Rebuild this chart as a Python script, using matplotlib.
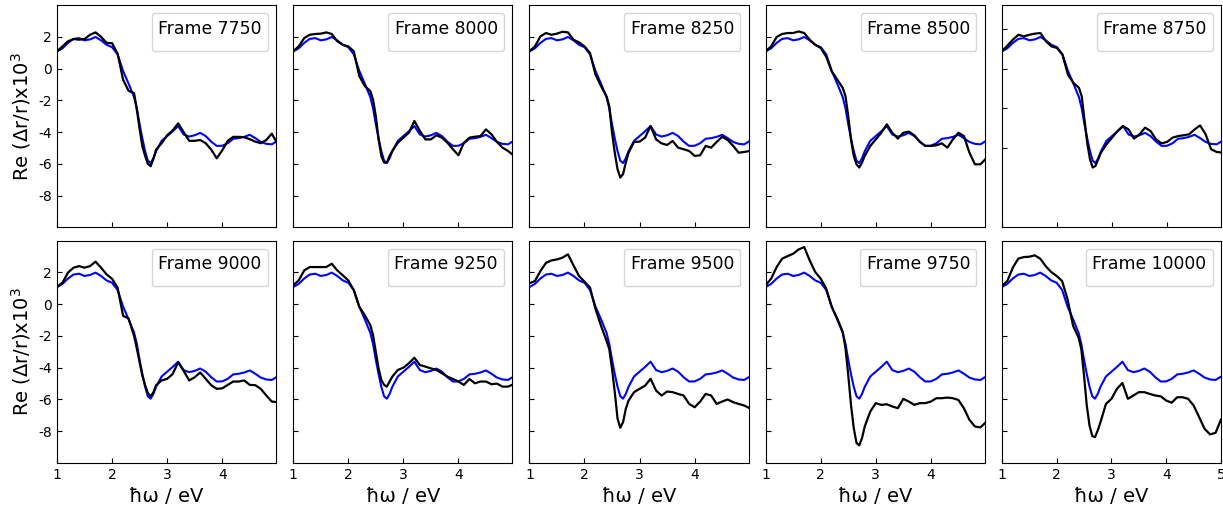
import matplotlib
matplotlib.use('Agg')
import matplotlib.pyplot as plt

plt.rcParams['axes.unicode_minus'] = False

# ---------------------------------------------------------
# DATA
# ---------------------------------------------------------
energy = [1.0, 1.1, 1.2, 1.3, 1.4, 1.5, 1.6, 1.7, 1.8, 1.9, 2.0, 2.1, 2.2, 2.3, 2.4,
          2.45, 2.5, 2.55, 2.6, 2.65, 2.7, 2.75, 2.8,
          2.9, 3.0, 3.1, 3.2, 3.3, 3.4, 3.5, 3.6, 3.7, 3.8, 3.9, 4.0, 4.1, 4.2,
          4.3, 4.4, 4.5, 4.6, 4.7, 4.8, 4.9, 5.0]

# blue reference curve (same in every panel)
reference = [1.08, 1.28, 1.62, 1.87, 1.92, 1.78, 1.84, 1.99, 1.78, 1.50, 1.35, 0.90, -0.15, -0.95, -1.80,
             -2.50, -3.50, -4.40, -5.20, -5.80, -5.95, -5.65, -5.20,
             -4.55, -4.25, -3.95, -3.62, -4.15, -4.28, -4.20, -4.05, -4.25, -4.60, -4.87, -4.86, -4.70, -4.42,
             -4.38, -4.30, -4.17, -4.38, -4.62, -4.74, -4.77, -4.56]

frames = ['7750', '8000', '8250', '8500', '8750', '9000', '9250', '9500', '9750', '10000']

frame_7750 = [1.09, 1.40, 1.72, 1.86, 1.82, 1.86, 2.13, 2.28, 2.00, 1.62, 1.60, 0.95, -0.70, -1.40, -1.55,
              -2.60, -3.80, -4.90, -5.50, -6.00, -6.15, -5.70, -5.10,
              -4.70, -4.20, -3.90, -3.45, -4.00, -4.55, -4.55, -4.50, -4.70, -5.10, -5.65, -5.15, -4.55, -4.30,
              -4.30, -4.32, -4.45, -4.60, -4.70, -4.50, -4.10, -4.70]
frame_8000 = [1.09, 1.40, 1.92, 2.13, 2.18, 2.20, 2.28, 2.18, 1.72, 1.50, 1.40, 1.09, -0.48, -1.10, -1.42,
              -1.95, -3.00, -4.45, -5.50, -5.92, -5.92, -5.50, -5.19,
              -4.67, -4.35, -4.04, -3.30, -3.93, -4.46, -4.46, -4.20, -4.35, -4.67, -5.08, -5.46, -4.67, -4.35,
              -4.29, -4.25, -3.83, -4.14, -4.62, -4.98, -5.19, -5.46]
frame_8250 = [1.09, 1.40, 2.03, 2.24, 2.13, 2.20, 2.32, 2.28, 1.82, 1.65, 1.40, 0.98, -0.38, -1.10, -1.74,
              -2.36, -4.04, -5.30, -6.34, -6.86, -6.65, -5.92, -5.30,
              -4.62, -4.60, -4.35, -3.62, -4.46, -4.71, -4.81, -4.56, -4.98, -5.08, -5.19, -5.50, -5.46, -4.87,
              -4.98, -4.62, -4.29, -4.50, -4.87, -5.30, -5.25, -5.19]
frame_8500 = [1.09, 1.40, 1.99, 2.18, 2.24, 2.24, 2.34, 2.24, 1.82, 1.50, 1.30, 0.75, -0.17, -0.69, -1.21,
              -1.74, -3.00, -4.46, -5.50, -6.03, -6.23, -5.92, -5.50,
              -4.87, -4.46, -4.04, -3.51, -4.04, -4.41, -4.04, -3.97, -4.20, -4.62, -4.87, -4.87, -4.83, -4.71,
              -4.98, -4.46, -4.04, -4.25, -5.29, -6.03, -6.03, -5.67]
frame_8750 = [1.09, 1.44, 1.82, 2.13, 2.03, 2.13, 2.20, 2.24, 1.72, 1.40, 1.30, 0.88, -0.38, -0.90, -1.21,
              -1.74, -3.20, -4.67, -5.71, -6.23, -6.13, -5.71, -5.29,
              -4.77, -4.35, -3.93, -3.62, -3.83, -4.41, -4.14, -3.72, -3.93, -4.46, -4.71, -4.62, -4.35, -4.25,
              -4.20, -4.14, -3.83, -3.58, -4.14, -5.08, -5.25, -5.29]
frame_9000 = [1.09, 1.36, 1.99, 2.30, 2.40, 2.30, 2.40, 2.68, 2.30, 1.88, 1.60, 1.05, -0.73, -0.90, -2.00,
              -2.80, -3.66, -4.50, -5.10, -5.60, -5.80, -5.55, -5.10,
              -4.80, -4.70, -4.40, -3.66, -4.20, -4.80, -4.60, -4.30, -4.70, -5.10, -5.33, -5.30, -5.08, -4.87,
              -4.87, -4.80, -5.08, -5.10, -5.33, -5.75, -6.13, -6.17]
frame_9250 = [1.19, 1.50, 2.13, 2.34, 2.34, 2.34, 2.34, 2.55, 2.13, 1.82, 1.50, 0.88, -0.17, -0.69, -1.32,
              -1.95, -3.00, -4.04, -4.77, -5.08, -5.19, -4.87, -4.56,
              -4.14, -4.00, -3.72, -3.37, -3.83, -3.93, -4.04, -4.14, -4.35, -4.56, -4.71, -4.87, -5.08, -4.71,
              -4.98, -4.87, -4.87, -5.04, -5.00, -5.19, -5.19, -5.04]
frame_9500 = [1.32, 1.46, 2.09, 2.60, 2.76, 2.82, 2.93, 3.14, 2.45, 1.78, 1.42, 1.05, -0.30, -1.36, -2.30,
              -2.82, -4.08, -5.54, -7.20, -7.78, -7.43, -6.59, -6.07,
              -5.54, -5.33, -5.13, -4.70, -5.44, -5.75, -5.50, -5.54, -5.65, -5.75, -6.28, -6.49, -6.13, -5.65,
              -5.75, -6.28, -6.13, -6.00, -6.17, -6.28, -6.38, -6.55]
frame_9750 = [1.19, 1.61, 2.34, 2.87, 3.03, 3.18, 3.45, 3.60, 2.76, 2.03, 1.61, 0.98, -0.17, -0.90, -1.74,
              -2.78, -4.46, -6.34, -7.80, -8.74, -8.89, -8.43, -7.70,
              -6.76, -6.23, -6.34, -6.30, -6.44, -6.55, -5.96, -6.13, -6.34, -6.23, -6.23, -6.13, -5.92, -5.92,
              -5.88, -5.92, -6.03, -6.55, -7.28, -7.70, -7.76, -7.43]
frame_10000 = [1.15, 1.46, 2.30, 2.87, 2.97, 2.99, 3.08, 2.87, 2.40, 2.03, 1.78, 1.46, 0.30, -1.36, -2.10,
               -2.82, -4.50, -6.38, -7.64, -8.30, -8.37, -7.95, -7.43,
               -6.28, -5.96, -5.33, -4.96, -5.96, -5.75, -5.54, -5.54, -5.65, -5.75, -5.80, -6.07, -6.20, -5.86,
               -5.86, -5.96, -6.38, -7.11, -7.85, -8.20, -8.10, -7.26]

simulated = [frame_7750, frame_8000, frame_8250, frame_8500, frame_8750,
             frame_9000, frame_9250, frame_9500, frame_9750, frame_10000]

# ---------------------------------------------------------
# PLOT 2 x 5 GRID
# ---------------------------------------------------------
fig, axes = plt.subplots(2, 5, figsize=(12.23, 5.08), dpi=100)
plt.subplots_adjust(left=0.0466, right=0.9984, top=0.990, bottom=0.0886,
                    wspace=0.0776, hspace=0.06)

for i, ax in enumerate(axes.flat):
    row, col = divmod(i, 5)
    ax.plot(energy, reference, color='blue', linewidth=1.5)
    ax.plot(energy, simulated[i], color='black', linewidth=1.6)

    ax.set_xlim(1, 4.98)
    ax.set_ylim(-10, 4)
    ax.set_xticks([1, 2, 3, 4])
    ax.set_yticks([-8, -6, -4, -2, 0, 2])
    ax.tick_params(direction='in', labelsize=10)

    ax.legend(handles=[], title='Frame ' + frames[i], loc='upper right',
              title_fontsize=12.4, borderpad=0.45, borderaxespad=0.6)

    if col == 0:
        ax.set_ylabel(r'Re ($\Delta$r/r)x10$^3$', fontsize=14)
    else:
        ax.set_yticklabels([])
    if row == 1:
        ax.set_xlabel('ħω / eV', fontsize=14)
    else:
        ax.set_xticklabels([])

# odd ones out
axes[0, 4].set_yticks([2.5, 0, -2.5, -5])
axes[0, 4].set_yticklabels([])
axes[1, 4].set_xlim(1, 5)
axes[1, 4].set_xticks([1, 2, 3, 4, 5])

plt.savefig('out.png', dpi=100)
